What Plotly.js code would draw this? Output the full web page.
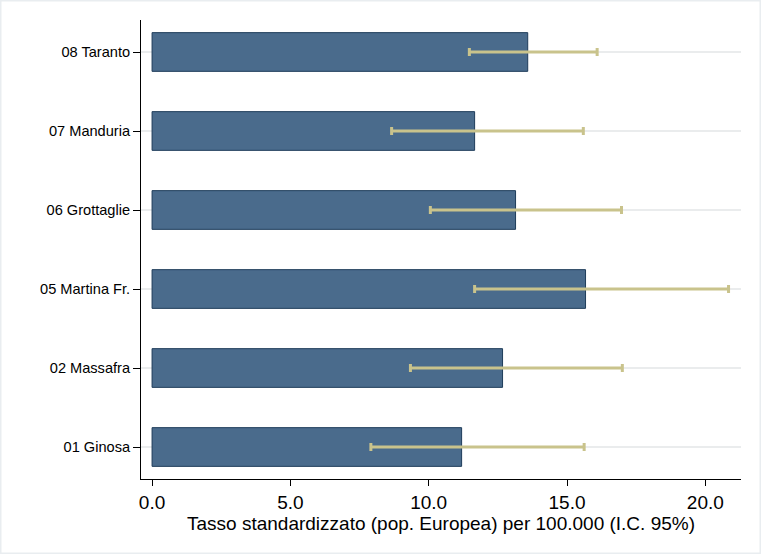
<!DOCTYPE html>
<html>
<head>
<meta charset="utf-8">
<script src="https://cdn.plot.ly/plotly-3.0.1.min.js"></script>
<style>
html,body{margin:0;padding:0;background:#fff;}
#chart{width:761px;height:554px;}
</style>
</head>
<body>
<div id="chart"></div>
<script>
const categories = ["01 Ginosa", "02 Massafra", "05 Martina Fr.", "06 Grottaglie", "07 Manduria", "08 Taranto"];
const rates = [11.19, 12.67, 15.67, 13.14, 11.66, 13.58];
const ciLow = [7.91, 9.34, 11.66, 10.06, 8.66, 11.47];
const ciHigh = [15.62, 17.00, 20.84, 16.97, 15.59, 16.09];
const xTicks = [0, 5, 10, 15, 20];

const errPlus = rates.map((v, i) => ciHigh[i] - v);
const errMinus = rates.map((v, i) => v - ciLow[i]);

const traces = [{
  type: 'bar',
  orientation: 'h',
  y: categories,
  x: rates,
  width: 0.49,
  marker: {color: '#4a6b8c', line: {color: '#1e3c5a', width: 1}},
  error_x: {
    type: 'data', symmetric: false,
    array: errPlus, arrayminus: errMinus,
    color: '#c9c38c', thickness: 3, width: 4
  },
  hoverinfo: 'x+y'
}];

const layout = {
  width: 761, height: 554,
  margin: {l: 141, r: 20, t: 20, b: 75},
  paper_bgcolor: '#ffffff',
  plot_bgcolor: '#ffffff',
  showlegend: false,
  font: {family: 'Liberation Sans, Arial, sans-serif', color: '#000'},
  xaxis: {
    range: [-0.4, 21.29],
    tickvals: xTicks,
    ticktext: xTicks.map(v => v.toFixed(1)),
    ticks: 'outside', ticklen: 6, tickcolor: '#000', tickwidth: 1,
    showline: true, linecolor: '#000', linewidth: 1,
    showgrid: false, zeroline: false,
    tickfont: {size: 19},
    title: {text: 'Tasso standardizzato (pop. Europea) per 100.000 (I.C. 95%)', font: {size: 19}, standoff: 0}
  },
  yaxis: {
    type: 'category',
    range: [-0.405, 5.405],
    ticks: 'outside', ticklen: 7, tickcolor: '#000', tickwidth: 1,
    showline: true, linecolor: '#000', linewidth: 1,
    showgrid: true, gridcolor: '#eaeced', gridwidth: 2,
    zeroline: false,
    tickfont: {size: 14.6}
  },
  shapes: [{
    type: 'rect', xref: 'paper', yref: 'paper',
    x0: -141/600, x1: 1 + 20/600, y0: -75/459, y1: 1 + 20/459,
    line: {color: '#e9edf0', width: 3}, fillcolor: 'rgba(0,0,0,0)', layer: 'below'
  }]
};

Plotly.newPlot('chart', traces, layout, {displayModeBar: false, staticPlot: true});
</script>
</body>
</html>
